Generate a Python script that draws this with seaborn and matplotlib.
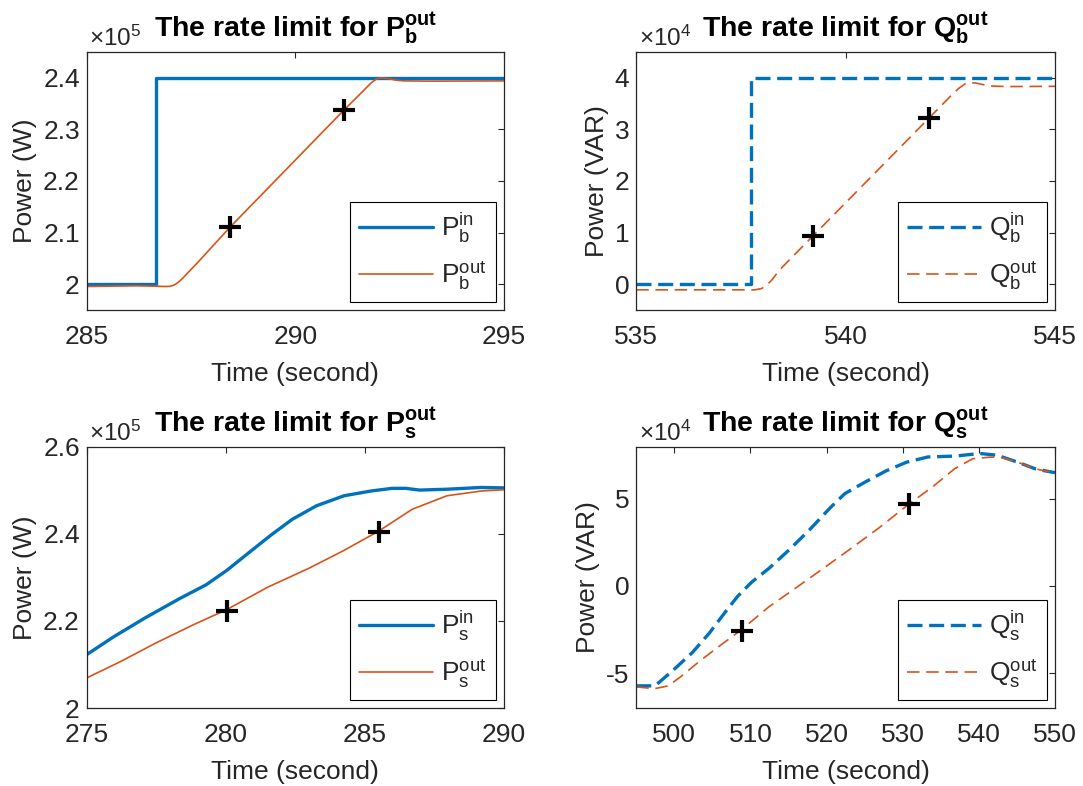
import matplotlib
matplotlib.use('Agg')
import matplotlib.pyplot as plt
import seaborn as sns
from matplotlib.ticker import FuncFormatter, FixedLocator

# ---------------- data ----------------
# Panel 1: P_b (W)
p1_t_in = [285, 286.65, 286.65, 295]
p1_in = [2.0e5, 2.0e5, 2.4e5, 2.4e5]
p1_t_out = [285, 286.2, 286.9, 287.0, 287.1, 287.2, 287.3, 287.4, 287.5, 287.6, 287.7, 288.43,
            291.16, 291.6, 291.82, 291.95, 292.05, 292.2, 292.4, 292.6, 293.2, 295]
p1_out = [1.9955e5, 1.997e5, 1.9955e5, 1.9958e5, 1.9985e5, 2.004e5, 2.0115e5, 2.020e5, 2.0285e5,
          2.037e5, 2.0455e5, 2.11e5, 2.3366e5, 2.372e5, 2.390e5, 2.3975e5, 2.3992e5, 2.3985e5,
          2.395e5, 2.3935e5, 2.393e5, 2.3935e5]
p1_mark_t = [288.43, 291.16]
p1_mark_v = [2.11e5, 2.3366e5]

# Panel 2: Q_b (VAR)
q2_t_in = [535, 537.73, 537.73, 545]
q2_in = [0.0, 0.0, 4.0e4, 4.0e4]
q2_t_out = [535, 537.83, 537.99, 538.1, 538.24, 538.35, 538.49, 539.21, 542.0, 542.5,
            542.7, 542.85, 542.95, 543.1, 543.3, 543.5, 543.86, 545]
q2_out = [-0.11e4, -0.11e4, -0.085e4, -0.03e4, 0.084e4, 0.2e4, 0.333e4, 0.926e4, 3.223e4, 3.635e4,
          3.79e4, 3.875e4, 3.9e4, 3.895e4, 3.86e4, 3.835e4, 3.825e4, 3.83e4]
q2_mark_t = [539.21, 542.0]
q2_mark_v = [0.926e4, 3.223e4]

# Panel 3: P_s (W)
p3_t_in = [275, 275.96, 277.08, 278.31, 279.3, 280.04, 280.9, 281.65, 282.39, 283.26,
           284.25, 285.23, 285.98, 286.47, 286.97, 287.95, 289.18, 290]
p3_in = [2.1225e5, 2.163e5, 2.206e5, 2.250e5, 2.283e5, 2.316e5, 2.36e5, 2.398e5, 2.433e5, 2.464e5,
         2.487e5, 2.498e5, 2.504e5, 2.504e5, 2.500e5, 2.502e5, 2.506e5, 2.505e5]
p3_t_out = [275, 276.2, 277.45, 278.8, 280.04, 281.5, 283.0, 284.2, 285.5, 286.7,
            287.95, 289.2, 290]
p3_out = [2.069e5, 2.106e5, 2.148e5, 2.19e5, 2.226e5, 2.277e5, 2.321e5, 2.36e5, 2.406e5, 2.456e5,
          2.487e5, 2.498e5, 2.5008e5]
p3_mark_t = [280.04, 285.52]
p3_mark_v = [2.2226e5, 2.404e5]

# Panel 4: Q_s (VAR)
q4_t_in = [495, 497.4, 498, 500.1, 502.4, 504.6, 506.5, 508.3, 510.1, 512.4, 515.1, 517.8,
           520.5, 522.4, 525.1, 527.8, 530.5, 533.3, 536.9, 540.1, 542.4, 545.1, 547.4, 548.5, 550]
q4_in = [-5.73e4, -5.73e4, -5.53e4, -4.73e4, -3.80e4, -2.7e4, -1.6e4, -0.6e4, 0.2e4, 1.0e4, 2.08e4, 3.24e4,
         4.5e4, 5.3e4, 5.97e4, 6.6e4, 7.1e4, 7.4e4, 7.45e4, 7.6e4, 7.5e4, 7.1e4, 6.72e4, 6.62e4, 6.5e4]
q4_t_out = [495, 497.4, 499.2, 501.0, 503.3, 506.0, 508.7, 512.4, 516.0, 519.6, 523.3, 526.9,
            530.5, 534.1, 536.8, 539.2, 541.5, 542.8, 545.1, 547.4, 548.5, 550]
q4_out = [-5.79e4, -5.89e4, -5.73e4, -5.15e4, -4.32e4, -3.42e4, -2.55e4, -1.2e4, -0.1e4, 1.02e4, 2.18e4, 3.34e4,
          4.59e4, 5.75e4, 6.72e4, 7.3e4, 7.39e4, 7.39e4, 7.1e4, 6.72e4, 6.62e4, 6.5e4]
q4_mark_t = [508.86, 530.86]
q4_mark_v = [-2.57e4, 4.69e4]

# ---------------- style ----------------
sns.set_theme(style='white')
plt.rcParams.update({
    'font.family': ['Liberation Sans', 'DejaVu Sans'],
    'mathtext.fontset': 'custom',
    'mathtext.rm': 'Liberation Sans',
    'mathtext.it': 'Liberation Sans:italic',
    'mathtext.bf': 'Liberation Sans:bold',
    'mathtext.sf': 'Liberation Sans',
})
BLUE = '#0072BD'
ORANGE = '#D95319'
DARK = '#262626'
FS = 19

fig = plt.figure(figsize=(10.83, 7.86), dpi=100)

W, H = 1083.0, 786.0
def rect(x0, x1, y0, y1):
    return [x0 / W, 1 - y1 / H, (x1 - x0) / W, (y1 - y0) / H]

pos = [rect(86.7, 504, 51.7, 310), rect(636.3, 1055, 51.7, 310),
       rect(86.7, 504, 446.5, 708), rect(636.3, 1055, 446.5, 708)]


def panel(axpos, t_in, v_in, t_out, v_out, mt, mv, dashed, lab_in, lab_out,
          xlim, ylim, xticks, yticks, expo, ylabel, title):
    ax = fig.add_axes(axpos)
    sns.lineplot(x=t_in, y=v_in, ax=ax, color=BLUE, linewidth=2.4,
                 estimator=None, sort=False, label=lab_in)
    l_in = ax.lines[-1]
    sns.lineplot(x=t_out, y=v_out, ax=ax, color=ORANGE, linewidth=1.2,
                 estimator=None, sort=False, label=lab_out)
    l_out = ax.lines[-1]
    if dashed:
        l_in.set_linestyle((0, (4.5, 2.0)))
        l_out.set_linestyle((0, (7.5, 4.0)))
    sns.scatterplot(x=mt, y=mv, ax=ax, marker='+', s=230, color='black',
                    linewidth=3.0, zorder=5)
    ax.set_xlim(*xlim)
    ax.set_ylim(*ylim)
    ax.xaxis.set_major_locator(FixedLocator(xticks))
    ax.yaxis.set_major_locator(FixedLocator(yticks))
    ax.yaxis.set_major_formatter(FuncFormatter(lambda v, p: f'{v / 10**expo:g}'))
    ax.xaxis.set_major_formatter(FuncFormatter(lambda v, p: f'{v:g}'))
    ax.tick_params(axis='both', direction='in', length=4, width=0.8, color=DARK,
                   labelcolor=DARK, labelsize=FS, top=True, right=True)
    ax.tick_params(axis='x', pad=11)
    ax.tick_params(axis='y', pad=5)
    for s in ax.spines.values():
        s.set_visible(True)
        s.set_color(DARK)
        s.set_linewidth(0.9)
    ax.set_xlabel('Time (second)', fontsize=FS, color=DARK, labelpad=9)
    ax.set_ylabel(ylabel, fontsize=FS, color=DARK, labelpad=4)
    ax.set_title(title, fontsize=20.5, fontweight='bold', color='black', pad=11)
    ax.annotate(r'$\times10^{%d}$' % expo, xy=(0, 1), xycoords='axes fraction',
                xytext=(2, 4), textcoords='offset points', ha='left', va='baseline',
                fontsize=17.5, color=DARK)
    leg = ax.legend(loc='lower right', fontsize=FS, frameon=True, fancybox=False,
                    framealpha=1, edgecolor='black', borderaxespad=0.32,
                    handlelength=2.8, handletextpad=0.3, borderpad=0.35,
                    labelspacing=0.55)
    leg.get_frame().set_linewidth(0.8)
    for t in leg.get_texts():
        t.set_color(DARK)
    ax.grid(False)
    return ax


panel(pos[0], p1_t_in, p1_in, p1_t_out, p1_out, p1_mark_t, p1_mark_v, False,
      r'$\mathrm{P_b^{in}}$', r'$\mathrm{P_b^{out}}$',
      (285, 295), (1.95e5, 2.45e5), [285, 290, 295],
      [2.0e5, 2.1e5, 2.2e5, 2.3e5, 2.4e5], 5, 'Power (W)',
      r'The rate limit for $\mathbf{P_b^{out}}$')

panel(pos[1], q2_t_in, q2_in, q2_t_out, q2_out, q2_mark_t, q2_mark_v, True,
      r'$\mathrm{Q_b^{in}}$', r'$\mathrm{Q_b^{out}}$',
      (535, 545), (-0.5e4, 4.5e4), [535, 540, 545],
      [0, 1e4, 2e4, 3e4, 4e4], 4, 'Power (VAR)',
      r'The rate limit for $\mathbf{Q_b^{out}}$')

panel(pos[2], p3_t_in, p3_in, p3_t_out, p3_out, p3_mark_t, p3_mark_v, False,
      r'$\mathrm{P_s^{in}}$', r'$\mathrm{P_s^{out}}$',
      (275, 290), (2.0e5, 2.6e5), [275, 280, 285, 290],
      [2.0e5, 2.2e5, 2.4e5, 2.6e5], 5, 'Power (W)',
      r'The rate limit for $\mathbf{P_s^{out}}$')

panel(pos[3], q4_t_in, q4_in, q4_t_out, q4_out, q4_mark_t, q4_mark_v, True,
      r'$\mathrm{Q_s^{in}}$', r'$\mathrm{Q_s^{out}}$',
      (495, 550), (-7e4, 8e4), [500, 510, 520, 530, 540, 550],
      [-5e4, 0, 5e4], 4, 'Power (VAR)',
      r'The rate limit for $\mathbf{Q_s^{out}}$')

fig.savefig('out.png', dpi=100, facecolor='white')
